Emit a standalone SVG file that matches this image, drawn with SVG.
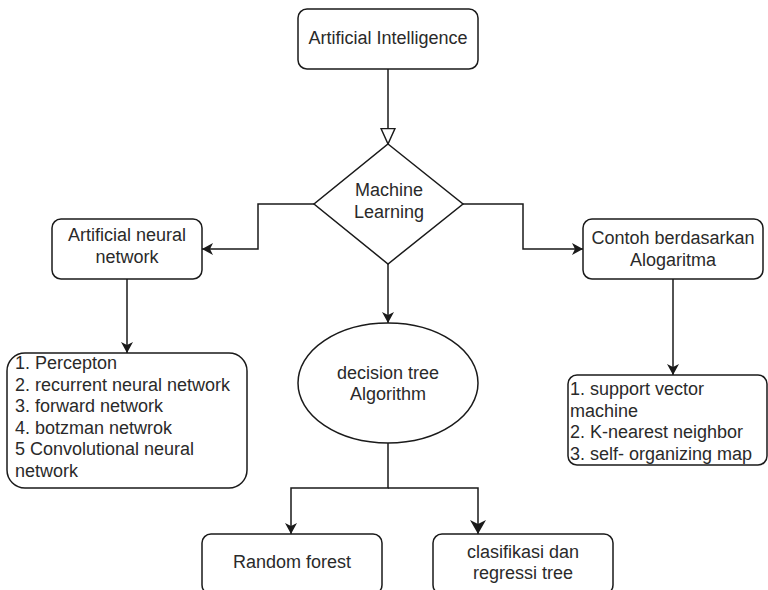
<svg xmlns="http://www.w3.org/2000/svg" width="768" height="590" viewBox="0 0 768 590">
  <style>
    .box { fill: #ffffff; stroke: #1a1a1a; stroke-width: 1.5; }
    .edge { fill: none; stroke: #1a1a1a; stroke-width: 1.5; }
    text { font-family: "Liberation Sans", Arial, sans-serif; font-size: 18px; fill: #2a2a2a; }
    .c { text-anchor: middle; }
  </style>
  <defs>
    <marker id="arrow" markerUnits="userSpaceOnUse" markerWidth="12" markerHeight="12" refX="11" refY="6" orient="auto" viewBox="0 0 12 12">
      <path d="M0,0 L11,6 L0,12 L3,6 Z" fill="#1a1a1a"/>
    </marker>
    <marker id="arrowBig" markerUnits="userSpaceOnUse" markerWidth="15" markerHeight="16" refX="14" refY="8" orient="auto" viewBox="0 0 15 16">
      <path d="M0,0 L14,8 L0,16 L4,8 Z" fill="#1a1a1a"/>
    </marker>
    <marker id="hollow" markerUnits="userSpaceOnUse" markerWidth="18" markerHeight="16" refX="16.5" refY="8" orient="auto" viewBox="0 0 18 16">
      <path d="M1,1 L16.5,8 L1,15 Z" fill="#ffffff" stroke="#1a1a1a" stroke-width="1.5"/>
    </marker>
  </defs>

  <g id="connectors">
    <path class="edge" d="M388,69 L388,144" marker-end="url(#hollow)"/>
    <path class="edge" d="M314,204 L258,204 L258,249 L202,249" marker-end="url(#arrow)"/>
    <path class="edge" d="M463,204 L523,204 L523,249 L583,249" marker-end="url(#arrow)"/>
    <path class="edge" d="M388,264 L388,323" marker-end="url(#arrow)"/>
    <path class="edge" d="M127,279 L127,353" marker-end="url(#arrow)"/>
    <path class="edge" d="M673,279 L673,375" marker-end="url(#arrow)"/>
    <path class="edge" d="M388,443 L388,488 L291,488 L291,534" marker-end="url(#arrow)"/>
    <path class="edge" d="M388,488 L478,488 L478,534" marker-end="url(#arrowBig)"/>
  </g>

  <g id="artificial-intelligence">
    <rect class="box" x="298" y="9" width="180" height="60" rx="9"/>
    <text class="c" x="388" y="44">Artificial Intelligence</text>
  </g>

  <g id="machine-learning">
    <path class="box" d="M388,144 L463,204 L388,264 L314,204 Z"/>
    <text class="c" x="389" y="196">Machine</text>
    <text class="c" x="389" y="218">Learning</text>
  </g>

  <g id="artificial-neural-network">
    <rect class="box" x="52" y="219" width="150" height="60" rx="9"/>
    <text class="c" x="127" y="241">Artificial neural</text>
    <text class="c" x="127" y="263">network</text>
  </g>

  <g id="contoh-berdasarkan-alogaritma">
    <rect class="box" x="583" y="219" width="180" height="60" rx="9"/>
    <text class="c" x="673" y="244">Contoh berdasarkan</text>
    <text class="c" x="673" y="266">Alogaritma</text>
  </g>

  <g id="ann-list">
    <rect class="box" x="7" y="353" width="240" height="135" rx="18"/>
    <text x="15" y="369">1. Percepton</text>
    <text x="15" y="390.5">2. recurrent neural network</text>
    <text x="15" y="412">3. forward network</text>
    <text x="15" y="433.5">4. botzman netwrok</text>
    <text x="15" y="455">5 Convolutional neural</text>
    <text x="15" y="476.5">network</text>
  </g>

  <g id="decision-tree">
    <ellipse class="box" cx="388" cy="383" rx="90" ry="60"/>
    <text class="c" x="388" y="379">decision tree</text>
    <text class="c" x="388" y="400">Algorithm</text>
  </g>

  <g id="algorithm-list">
    <rect class="box" x="568" y="375" width="199" height="90" rx="9"/>
    <text x="570" y="395">1. support vector</text>
    <text x="570" y="416.5">machine</text>
    <text x="570" y="438">2. K-nearest neighbor</text>
    <text x="570" y="459.5">3. self- organizing map</text>
  </g>

  <g id="random-forest">
    <rect class="box" x="202" y="534" width="180" height="60" rx="9"/>
    <text class="c" x="292" y="568">Random forest</text>
  </g>

  <g id="clasifikasi-regressi-tree">
    <rect class="box" x="433" y="534" width="180" height="60" rx="9"/>
    <text class="c" x="523" y="558">clasifikasi dan</text>
    <text class="c" x="523" y="579">regressi tree</text>
  </g>
</svg>
